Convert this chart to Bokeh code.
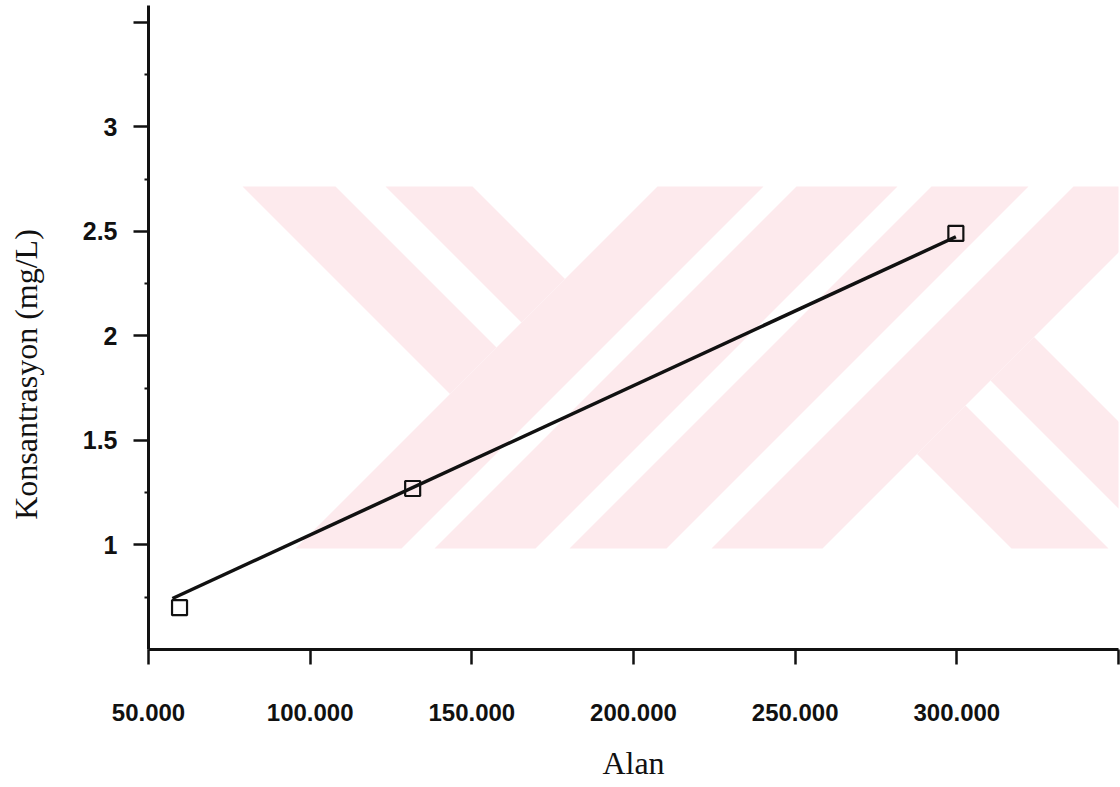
import math

from bokeh.plotting import figure
from bokeh.layouts import row
from bokeh.models import Range1d, FixedTicker
from bokeh.core.properties import value
from bokeh.embed import file_html
from bokeh.resources import INLINE

# Calibration points: peak area (Alan) vs concentration (mg/L)
alan = [59600, 131700, 299700]
konsantrasyon = [0.70, 1.27, 2.49]

# Calibration line as drawn: konsantrasyon = egim * alan + kesisim
egim = 7.14e-6
kesisim = 0.334
dogru_alan = [57400, 299700]

# Axis ticks and their labels
x_ticks = [50000, 100000, 150000, 200000, 250000, 300000, 350000]
x_tick_labels = ["50.000", "100.000", "150.000", "200.000", "250.000", "300.000", ""]
y_ticks = [1, 1.5, 2, 2.5, 3, 3.5]
y_tick_labels = ["1", "1.5", "2", "2.5", "3", ""]
y_minor_ticks = [0.75, 1.25, 1.75, 2.25, 2.75, 3.25]

y_title = "Konsantrasyon (mg/L)"
x_title = "Alan"

X_START, X_END = 50000, 350000
Y_START, Y_END = 0.5, 3.58

W, H = 1120, 787
SIDE_W = 66                      # strip holding the vertical axis title
LEFT, RIGHT, TOP, BOTTOM = 148, 2, 5, 138
FRAME_W = W - LEFT - RIGHT
FRAME_H = H - TOP - BOTTOM

INK = "#111111"

p = figure(
    width=W - SIDE_W, height=H,
    x_range=Range1d(X_START, X_END), y_range=Range1d(Y_START, Y_END),
    output_backend="svg", toolbar_location=None,
    min_border_left=LEFT - SIDE_W, min_border_right=RIGHT,
    min_border_top=TOP, min_border_bottom=BOTTOM,
)
p.background_fill_color = "white"
p.border_fill_color = "white"
p.outline_line_color = None
p.xgrid.visible = False
p.ygrid.visible = False


# ---- pale background emblem (diagonal bands), laid out in page pixels ----
def to_data(px, py):
    """Page pixel (origin top-left) -> data coordinates of the main plot."""
    x = X_START + (px - LEFT) / FRAME_W * (X_END - X_START)
    y = Y_START + (TOP + FRAME_H - py) / FRAME_H * (Y_END - Y_START)
    return x, y


EM_TOP, EM_BOT = 186, 548
# bands running down-left: edges given as v = px + py
down_left = [(843, 949), (982, 1083), (1117, 1214), (1259, 1370)]
# short bands running down-right (u = px - py), left of v=843 and right of v=1370
left_arms = [(56, 149), (199, 286)]
right_arms = [(463, 560), (610, 697)]
V_IN, V_OUT = 843, 1370

polys = []
for a, b in down_left:
    polys.append([(a - EM_TOP, EM_TOP), (b - EM_TOP, EM_TOP),
                  (b - EM_BOT, EM_BOT), (a - EM_BOT, EM_BOT)])
for a, b in left_arms:
    polys.append([(a + EM_TOP, EM_TOP), (b + EM_TOP, EM_TOP),
                  ((V_IN + b) / 2, (V_IN - b) / 2), ((V_IN + a) / 2, (V_IN - a) / 2)])
for a, b in right_arms:
    polys.append([((V_OUT + a) / 2, (V_OUT - a) / 2), ((V_OUT + b) / 2, (V_OUT - b) / 2),
                  (b + EM_BOT, EM_BOT), (a + EM_BOT, EM_BOT)])

xs, ys = [], []
for poly in polys:
    pts = [to_data(px, py) for px, py in poly]
    xs.append([q[0] for q in pts])
    ys.append([q[1] for q in pts])
p.patches(xs, ys, fill_color="#fdeaed", line_color=None)

# ---- calibration line and points ----
dogru_konsantrasyon = [egim * a + kesisim for a in dogru_alan]
p.line(dogru_alan, dogru_konsantrasyon, line_color=INK, line_width=3.5)
p.scatter(alan, konsantrasyon, marker="square", size=15, fill_color=None,
          line_color=INK, line_width=2.2)

# ---- axes ----
xa = p.xaxis[0]
xa.ticker = FixedTicker(ticks=x_ticks, minor_ticks=[])
xa.major_label_overrides = {t: lab for t, lab in zip(x_ticks, x_tick_labels)}
xa.axis_label = x_title
xa.axis_label_text_font = "Liberation Serif"
xa.axis_label_text_font_size = "32px"
xa.axis_label_text_font_style = "normal"
xa.axis_label_text_color = INK
xa.axis_label_standoff = 21
xa.major_label_text_font = "Liberation Sans"
xa.major_label_text_font_style = "bold"
xa.major_label_text_font_size = "24px"
xa.major_label_text_color = INK
xa.major_label_standoff = 39
xa.axis_line_width = 3
xa.axis_line_color = INK
xa.major_tick_line_width = 2.5
xa.major_tick_line_color = INK
xa.major_tick_out = 15
xa.major_tick_in = 0

ya = p.yaxis[0]
ya.ticker = FixedTicker(ticks=y_ticks, minor_ticks=y_minor_ticks)
ya.major_label_overrides = {t: lab for t, lab in zip(y_ticks, y_tick_labels)}
ya.major_label_text_font = "Liberation Sans"
ya.major_label_text_font_style = "bold"
ya.major_label_text_font_size = "25px"
ya.major_label_text_color = INK
ya.major_label_standoff = 16
ya.axis_line_width = 3
ya.axis_line_color = INK
ya.major_tick_line_width = 2.5
ya.major_tick_line_color = INK
ya.major_tick_out = 15
ya.major_tick_in = 0
ya.minor_tick_line_width = 2
ya.minor_tick_line_color = INK
ya.minor_tick_out = 4
ya.minor_tick_in = 0

# ---- narrow strip on the left carrying the vertical axis title ----
# The row aligns this strip's frame with the main frame (page y from TOP to
# TOP + FRAME_H), so its y range is chosen to read as "page height minus page y".
side = figure(
    width=SIDE_W, height=H,
    x_range=Range1d(0, SIDE_W), y_range=Range1d(H - TOP - FRAME_H, H - TOP),
    output_backend="svg", toolbar_location=None,
    min_border=0,
)
side.axis.visible = False
side.grid.visible = False
side.outline_line_color = None
side.background_fill_color = "white"
side.border_fill_color = "white"
side.text(x=[25], y=[H - 374], text=[y_title], angle=math.pi / 2,
          text_align="center", text_baseline="middle",
          text_font=value("Liberation Serif"), text_font_size="32px",
          text_color=INK)

layout = row(side, p, spacing=0)
open("out.html", "w").write(file_html(layout, INLINE))
